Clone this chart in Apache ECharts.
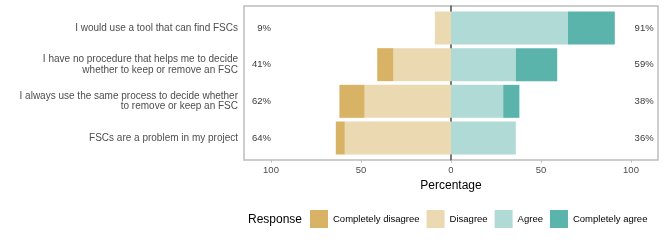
<!DOCTYPE html>
<html>
<head>
<meta charset="utf-8">
<style>html,body{margin:0;padding:0;background:#fff}#c{width:664px;height:242px}</style>
<script src="https://cdn.jsdelivr.net/npm/echarts@6/dist/echarts.min.js"></script>
</head>
<body>
<div id="c"></div>
<script>
var categories = [
  'I would use a tool that can find FSCs',
  'I have no procedure that helps me to decide\nwhether to keep or remove an FSC',
  'I always use the same process to decide whether\nto remove or keep an FSC',
  'FSCs are a problem in my project'
];
var completelyDisagree = [0, 9, 14, 5];
var disagree = [9, 32, 48, 59];
var agree = [65, 36, 29, 36];
var completelyAgree = [26, 23, 9, 0];
var xTickValues = [-100, -50, 0, 50, 100];

var FONT = '"Liberation Sans", Arial, Helvetica, sans-serif';
var neg = function (a) { return a.map(function (v) { return -v; }); };
var leftTotals = categories.map(function (c, i) { return completelyDisagree[i] + disagree[i]; });
var rightTotals = categories.map(function (c, i) { return agree[i] + completelyAgree[i]; });

var chart = echarts.init(document.getElementById('c'), null, {renderer: 'canvas'});
chart.setOption({
  animation: false,
  textStyle: {fontFamily: FONT},
  title: {
    text: 'Response', left: 248, top: 214, padding: 0,
    textStyle: {fontSize: 12, fontWeight: 'normal', color: '#000', fontFamily: FONT}
  },
  legend: {
    data: ['Completely disagree', 'Disagree', 'Agree', 'Completely agree'],
    left: 310, top: 210, padding: 0,
    itemWidth: 18, itemHeight: 18, itemGap: 7, icon: 'rect',
    textStyle: {fontSize: 9.5, color: '#000', fontFamily: FONT}
  },
  grid: [
    {left: 244, right: 6, top: 6, height: 154, show: true, borderColor: '#bdbdbd', borderWidth: 1.5, backgroundColor: '#fff'},
    {left: 244, right: 6, top: 9.67, height: 146.67}
  ],
  xAxis: [
    {
      gridIndex: 0, type: 'value', min: -115, max: 115,
      axisLine: {show: false},
      axisTick: {show: true, length: 2.5, lineStyle: {color: '#bdbdbd'}, customValues: xTickValues},
      axisLabel: {margin: 5, fontSize: 9.5, color: '#4d4d4d', fontFamily: FONT, customValues: xTickValues,
        formatter: function (v) { return Math.abs(v); }},
      splitLine: {show: false},
      name: 'Percentage', nameLocation: 'middle', nameGap: 16,
      nameTextStyle: {fontSize: 12, color: '#000', fontFamily: FONT}
    },
    {
      gridIndex: 1, type: 'value', min: -115, max: 115, show: false
    }
  ],
  yAxis: [
    {
      gridIndex: 0, type: 'value', min: 0, max: 1,
      axisLine: {show: true, onZero: true, lineStyle: {color: '#4d4d4d', width: 1.5}},
      axisTick: {show: false}, axisLabel: {show: false}, splitLine: {show: false}
    },
    {
      gridIndex: 1, type: 'category', data: categories, inverse: true,
      axisLine: {show: false, onZero: false}, axisTick: {show: false},
      axisLabel: {margin: 6, fontSize: 10, lineHeight: 10.8, color: '#4d4d4d', fontFamily: FONT, align: 'right'}
    }
  ],
  series: [
    {name: 'Disagree', type: 'bar', xAxisIndex: 1, yAxisIndex: 1, stack: 'r', barWidth: '90%',
      itemStyle: {color: '#EBD9B2'}, data: neg(disagree)},
    {name: 'Completely disagree', type: 'bar', xAxisIndex: 1, yAxisIndex: 1, stack: 'r', barWidth: '90%',
      itemStyle: {color: '#D9B365'}, data: neg(completelyDisagree)},
    {name: 'Agree', type: 'bar', xAxisIndex: 1, yAxisIndex: 1, stack: 'r', barWidth: '90%',
      itemStyle: {color: '#AFDAD6'}, data: agree},
    {name: 'Completely agree', type: 'bar', xAxisIndex: 1, yAxisIndex: 1, stack: 'r', barWidth: '90%',
      itemStyle: {color: '#5BB4AC'}, data: completelyAgree},
    {
      type: 'scatter', xAxisIndex: 1, yAxisIndex: 1, symbolSize: 0, silent: true,
      data: leftTotals.map(function (v, i) { return {value: [-100, i], name: v + '%'}; }),
      label: {show: true, position: 'inside', align: 'right', formatter: '{b}', fontSize: 9.5, color: '#000', fontFamily: FONT}
    },
    {
      type: 'scatter', xAxisIndex: 1, yAxisIndex: 1, symbolSize: 0, silent: true,
      data: rightTotals.map(function (v, i) { return {value: [102, i], name: v + '%'}; }),
      label: {show: true, position: 'inside', align: 'left', formatter: '{b}', fontSize: 9.5, color: '#000', fontFamily: FONT}
    }
  ]
});
</script>
</body>
</html>
